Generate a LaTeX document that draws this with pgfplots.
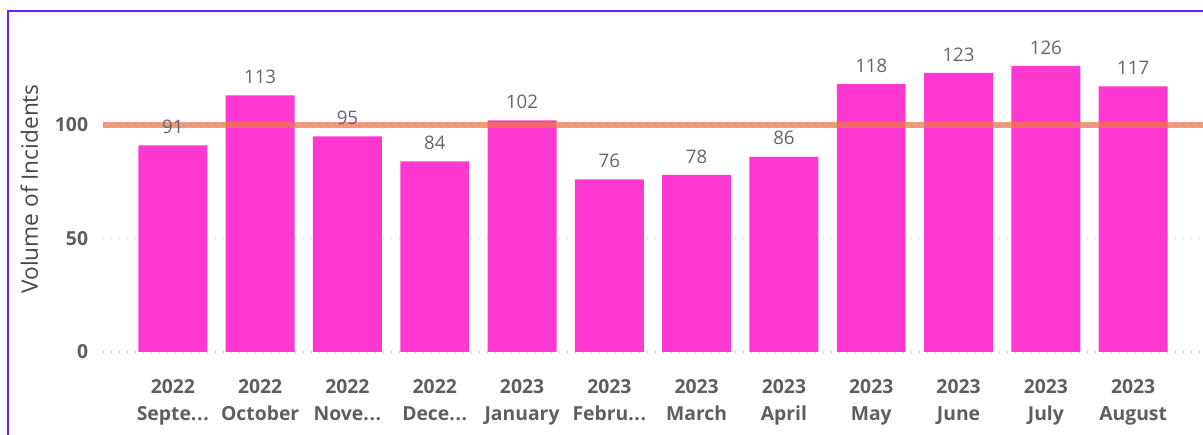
\documentclass[border=0pt]{standalone}
\usepackage{pgfplots}
\pgfplotsset{compat=1.18}
\usepackage{fontspec}
\setmainfont{Open Sans}
\definecolor{barpink}{RGB}{255,56,209}
\definecolor{refline}{RGB}{236,120,80}
\definecolor{ticktext}{RGB}{96,94,92}
\definecolor{labeltext}{RGB}{102,102,102}
\definecolor{axistitle}{RGB}{72,72,72}
\definecolor{frame}{RGB}{104,32,250}
\definecolor{gridgray}{RGB}{200,200,200}
\newcommand{\el}{.\kern0.5pt.\kern0.5pt.}

\begin{document}
\begin{tikzpicture}
\useasboundingbox (0,0) rectangle (902.25pt,326.25pt);
\draw[frame, line width=1.6pt] (5.8pt,0) -- (5.8pt,318pt) -- (903pt,318pt);
\begin{axis}[
    at={(77.25pt,62.25pt)}, anchor=south west,
    scale only axis,
    width=825pt, height=238.35pt,
    xmin=-0.8, xmax=11.8,
    ymin=0, ymax=140,
    axis line style={draw=none},
    major tick length=0pt,
    ytick={0,50,100},
    ymajorgrids,
    grid style={gridgray, line width=0.9pt, dash pattern=on 1pt off 5pt},
    /pgf/number format/assume math mode=true,
    yticklabel style={font=\fontsize{14.5}{16}\selectfont\bfseries, text=ticktext, anchor=east, inner sep=0pt, xshift=-11pt},
    xtick={0,1,2,3,4,5,6,7,8,9,10,11},
    xticklabels={{2022\\Septe\el},{2022\\October},{2022\\Nove\el},{2022\\Dece\el},{2023\\January},{2023\\Febru\el},{2023\\March},{2023\\April},{2023\\May},{2023\\June},{2023\\July},{2023\\August}},
    xticklabel style={font=\fontsize{14.5}{20.5}\selectfont\bfseries, text=ticktext, align=center, anchor=north, inner sep=0pt, yshift=-20.5pt},
    ylabel={Volume of Incidents},
    ylabel style={font=\fontsize{17}{20}\selectfont, text=axistitle, at={(axis description cs:-0.067,0.513)}, anchor=center, rotate=0},
]
\addplot[ybar, bar width=0.79, fill=barpink, draw=none,
    nodes near coords,
    every node near coord/.append style={font=\fontsize{14}{16}\selectfont, text=labeltext, anchor=south, inner sep=0pt, yshift=8.5pt}]
    coordinates {(0,91) (1,113) (2,95) (3,84) (4,102) (5,76) (6,78) (7,86) (8,118) (9,123) (10,126) (11,117)};
\addplot[refline, line width=3.8pt, opacity=0.75] coordinates {(-0.8,100) (11.8,100)};
\end{axis}
\end{tikzpicture}
\end{document}
